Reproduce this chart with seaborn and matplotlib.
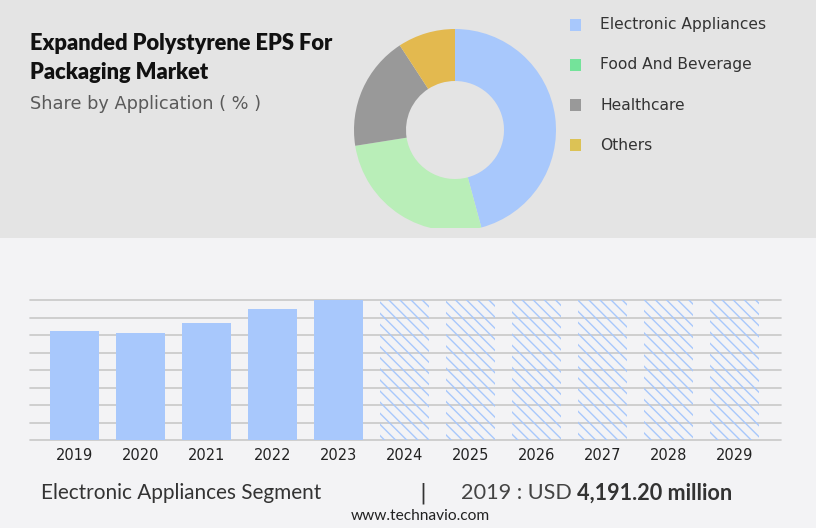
import numpy as np
import pandas as pd
import matplotlib
matplotlib.use("Agg")
import matplotlib.pyplot as plt
from matplotlib.patches import Rectangle
import seaborn as sns

# ---------------- data ----------------
segments = ["Electronic Appliances", "Food And Beverage", "Healthcare", "Others"]
shares = [45.8, 26.7, 18.3, 9.2]
pie_colors = ["#a8c8fc", "#b9eeb8", "#999999", "#e3b94f"]
legend_colors = ["#a8c8fc", "#74e39a", "#999999", "#dcc255"]

hist_years = ["2019", "2020", "2021", "2022", "2023"]
hist_values = [4191.2, 4114.0, 4499.0, 5037.0, 5383.0]
fc_years = ["2024", "2025", "2026", "2027", "2028", "2029"]
fc_values = [5383.0, 5383.0, 5383.0, 5383.0, 5383.0, 5383.0]

title_lines = ["Expanded Polystyrene EPS For", "Packaging Market"]
subtitle = "Share by Application ( % )"
footer_left = "Electronic Appliances Segment"
footer_mid = "2019 : USD "
footer_val = "4,191.20 million"
site = "www.technavio.com"

# ---------------- figure ----------------
W, H = 816, 528
DPI = 100
sns.set_theme(style="white")
plt.rcParams["font.family"] = ["DejaVu Sans"]
plt.rcParams["hatch.linewidth"] = 1.0

fig = plt.figure(figsize=(W / DPI, H / DPI), dpi=DPI)
fig.patch.set_facecolor("#f3f3f5")
renderer = fig.canvas.get_renderer()


def fx(px):
    return px / W


def fy(py):
    return 1 - py / H


# top grey panel
fig.add_artist(Rectangle((0, fy(238)), 1, 1 - fy(238), transform=fig.transFigure,
                         facecolor="#e4e4e4", edgecolor="none", zorder=0))


def fit_text(x, y, s, target_w, size=12, **kw):
    t = fig.text(fx(x), fy(y), s, fontsize=size, **kw)
    for _ in range(3):
        w = t.get_window_extent(renderer).width
        size = size * target_w / w
        t.set_fontsize(size)
    return t


# title / subtitle
t1 = fit_text(30, 43, title_lines[0], 302, size=14, family=["Lato", "DejaVu Sans"],
              weight="heavy", color="#111111", va="center", ha="left")
fig.text(fx(30), fy(73), title_lines[1], fontsize=t1.get_fontsize(),
         family=["Lato", "DejaVu Sans"], weight="heavy", color="#111111", va="center", ha="left")
fit_text(30, 104, subtitle, 231, size=12, color="#5a5a5a", va="center", ha="left")

# ---------------- donut ----------------
cx, cy, R, r_in = 455, 130, 101, 49
clip_bottom = 228
axp = fig.add_axes([fx(cx - R), fy(clip_bottom), 2 * R / W, (clip_bottom - (cy - R)) / H])
wedges, _ = axp.pie(shares, colors=pie_colors, startangle=90, counterclock=False, radius=1,
                    wedgeprops=dict(width=1 - r_in / R, edgecolor="none"))
axp.set_aspect("auto")
axp.set_xlim(-1, 1)
axp.set_ylim(-(clip_bottom - cy) / R, 1)
axp.axis("off")
for w in wedges:
    w.set_clip_on(True)
    w.set_clip_path(axp.patch)

# legend
leg_y = [25, 65, 105, 145]
lt = None
for lab, col, y in zip(segments, legend_colors, leg_y):
    fig.add_artist(Rectangle((fx(570), fy(y + 5.5)), 11 / W, 11 / H, transform=fig.transFigure,
                             facecolor=col, edgecolor="none"))
    if lt is None:
        lt = fit_text(600, y, lab, 167, size=11, color="#333333", va="center", ha="left")
    else:
        fig.text(fx(600), fy(y), lab, fontsize=lt.get_fontsize(), color="#333333",
                 va="center", ha="left")

# ---------------- bars ----------------
df = pd.DataFrame({
    "year": hist_years + fc_years,
    "value": hist_values + fc_values,
})
step = 66.0
x0 = 74.5
left_px, right_px = 30, 781
top_px, base_px = 300, 440
axb = fig.add_axes([fx(left_px), fy(base_px), (right_px - left_px) / W, (base_px - top_px) / H])
axb.set_facecolor("none")
sns.barplot(data=df, x="year", y="value", color="#a8c8fc", saturation=1,
            width=49 / step, ax=axb)
n_hist = len(hist_years)
for i, p in enumerate(axb.patches):
    if i >= n_hist:
        p.set_facecolor("none")
        p.set_edgecolor("#a8c8fc")
        p.set_hatch("\\\\\\")
        p.set_linewidth(0)
    else:
        p.set_edgecolor("none")
        p.set_linewidth(0)

ymax = max(hist_values)
axb.set_ylim(0, ymax)
axb.set_yticks(np.linspace(0, ymax, 9))
axb.set_yticklabels([])
axb.set_xlim((left_px - x0) / step, (right_px - x0) / step)
axb.yaxis.grid(True, color="#c8c8c8", linewidth=1.2)
axb.xaxis.grid(False)
axb.set_axisbelow(True)
for s in axb.spines.values():
    s.set_visible(False)
axb.tick_params(axis="both", length=0)
axb.tick_params(axis="x", labelsize=10.5, labelcolor="#222222", pad=6)
axb.set_xlabel("")
axb.set_ylabel("")
for gl in axb.get_ygridlines():
    gl.set_clip_on(False)

# ---------------- footer ----------------
fit_text(41, 493, footer_left, 281, size=13, family=["Lato", "DejaVu Sans"],
         color="#333333", va="center", ha="left")
fig.text(fx(423), fy(493), "|", fontsize=15, color="#333333", va="center", ha="center")
tm = fig.text(fx(461), fy(493), footer_mid, fontsize=13, family=["Lato", "DejaVu Sans"],
              color="#444444", va="center", ha="left")
tv = fig.text(fx(600), fy(493), footer_val, fontsize=13, family=["Lato", "DejaVu Sans"],
              weight="bold", color="#333333", va="center", ha="left")
for _ in range(3):
    wm = tm.get_window_extent(renderer).width
    wv = tv.get_window_extent(renderer).width
    sc = (732 - 461) / (wm + wv)
    tm.set_fontsize(tm.get_fontsize() * sc)
    tv.set_fontsize(tv.get_fontsize() * sc)
    wm = tm.get_window_extent(renderer).width
    tv.set_x(fx(461 + wm))
fit_text(420, 516, site, 140, size=10, family=["Lato", "DejaVu Sans"],
         color="#222222", va="center", ha="center")

fig.savefig("out.png", dpi=DPI, facecolor=fig.get_facecolor())
